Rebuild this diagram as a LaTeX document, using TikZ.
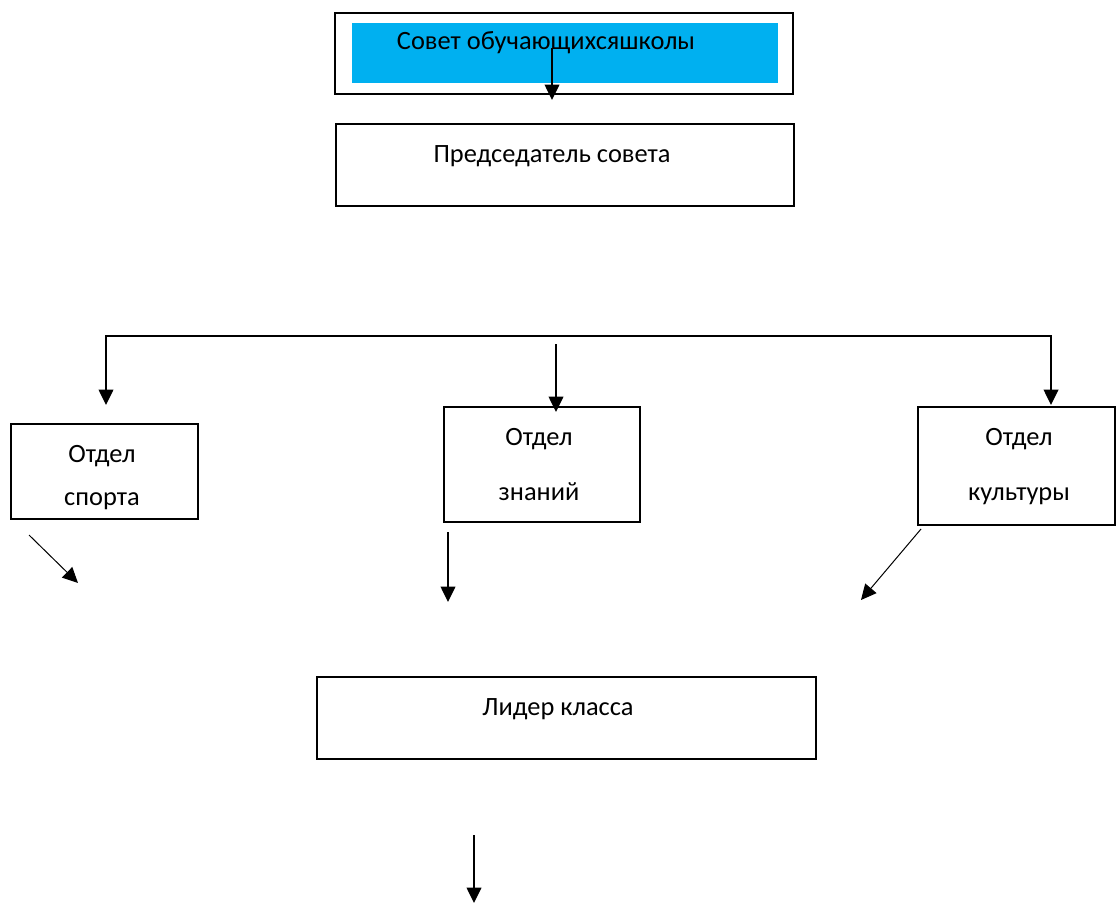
\documentclass[tikz,border=0pt]{standalone}
\usepackage{fontspec}
\setmainfont{Carlito}
\usetikzlibrary{positioning,arrows.meta}
\definecolor{sovblue}{HTML}{00B0F0}
\tikzset{
  bx/.style={rectangle, draw=black, line width=1.1pt, inner sep=0pt, outer sep=0pt},
  fillbx/.style={rectangle, fill=sovblue, inner sep=0pt, outer sep=0pt},
  txt/.style={anchor=base, align=center, inner sep=0pt, font=\fontsize{19.8}{23}\selectfont},
  arr/.style={-{Triangle[width=11pt,length=11.5pt]}, line width=1.1pt},
  tarr/.style={-{Triangle[width=11pt,length=11.5pt]}, line width=0.75pt}
}
\begin{document}
\begin{tikzpicture}[x=0.75pt, y=-0.75pt]
	\useasboundingbox (0,0) rectangle (1117,903);
	% council and chair
	\node[bx, minimum width=343.5pt, minimum height=60.75pt] (council) at (564,53.5) {};
	\node[fillbx, minimum width=319.5pt, minimum height=45pt] (councilfill) at (565,53) {};
	\node[txt] (counciltxt) at (546,49) {Совет обучающихсяшколы};
	\node[bx, minimum width=343.5pt, minimum height=61.5pt] (chair) at (565,165) {};
	\node[txt] (chairtxt) at (552,162) {Председатель совета};
	
	% departments
	\node[bx, minimum width=140.25pt, minimum height=71.25pt] (sport) at (104.5,471.5) {};
	\node[txt] (sporttxt) at (102,505) {Отдел\\[9pt]спорта};
	\node[bx, minimum width=147pt, minimum height=86.25pt] (know) at (542,464.5) {};
	\node[txt] (knowtxt) at (539,500) {Отдел\\[18pt]знаний};
	\node[bx, minimum width=147.75pt, minimum height=88.5pt] (cult) at (1016.5,466) {};
	\node[txt] (culttxt) at (1019,500) {Отдел\\[18pt]культуры};
	
	% class leader
	\node[bx, minimum width=374.25pt, minimum height=61.5pt] (leader) at (566.5,718) {};
	\node[txt] (leadertxt) at (558,715) {Лидер класса};
	
	% free ends of the arrows
	\coordinate (c1) at (552,48);
	\coordinate (c2) at (552,100);
	\coordinate (busL) at (106,336);
	\coordinate (busR) at (1051,336);
	\coordinate (tipL) at (106,405);
	\coordinate (tipR) at (1051,405);
	\coordinate (midS) at (556,344);
	\coordinate (midE) at (556,412);
	\coordinate (sportS) at (29,535);
	\coordinate (sportE) at (78,583);
	\coordinate (knowS) at (448,532);
	\coordinate (knowE) at (448,602);
	\coordinate (cultS) at (921,529);
	\coordinate (cultE) at (861,600);
	\coordinate (leadS) at (474,835);
	\coordinate (leadE) at (474,903);
	
	\draw[arr] (c1) -- (c2);
	\draw[arr, {Triangle[width=11pt,length=11.5pt]}-{Triangle[width=11pt,length=11.5pt]}] (tipL) -- (busL) -- (busR) -- (tipR);
	\draw[arr] (midS) -- (midE);
	\draw[tarr] (sportS) -- (sportE);
	\draw[arr] (knowS) -- (knowE);
	\draw[tarr] (cultS) -- (cultE);
	\draw[arr] (leadS) -- (leadE);
\end{tikzpicture}
\end{document}
